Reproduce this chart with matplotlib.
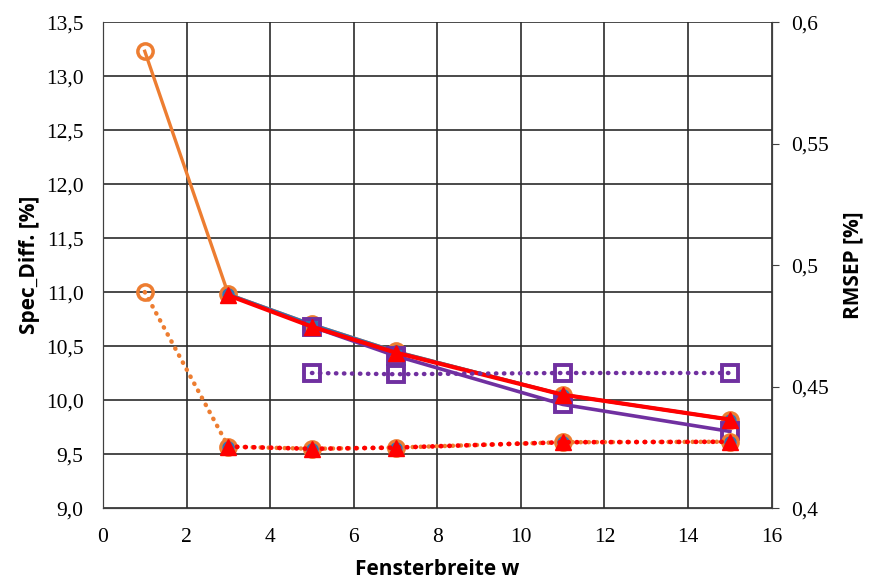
import matplotlib

matplotlib.use("Agg")

import matplotlib.pyplot as plt  # noqa: E402
from matplotlib.ticker import FuncFormatter, MultipleLocator  # noqa: E402

# Spec_Diff [%] (left axis)
x_all = [1, 3, 5, 7, 11, 15]
spec_orange = [13.23, 10.98, 10.70, 10.45, 10.05, 9.82]
x_sub = [3, 5, 7, 11, 15]
spec_blue = [10.98, 10.70, 10.45, 10.05, 9.82]
spec_red = [10.97, 10.68, 10.44, 10.05, 9.82]
x_sq = [5, 7, 11, 15]
spec_purple = [10.68, 10.41, 9.96, 9.71]

# RMSEP [%] (right axis)
rmsep_orange = [0.4889, 0.4253, 0.4244, 0.4249, 0.4271, 0.4273]
rmsep_blue = [0.4253, 0.4244, 0.4249, 0.4271, 0.4273]
rmsep_red = [0.4253, 0.4244, 0.4249, 0.4271, 0.4273]
rmsep_purple = [0.4556, 0.4551, 0.4556, 0.4556]

ORANGE = "#ED7D31"
BLUE = "#2E75B6"
PURPLE = "#7030A0"
RED = "#FF0000"


def comma(fmt):
    return FuncFormatter(lambda v, _: (fmt % v).replace(".", ","))


fig = plt.figure(figsize=(8.69, 5.82), dpi=100)
ax = fig.add_axes([0.1185, 0.127, 0.7695, 0.835])
ax2 = ax.twinx()

serif = "Liberation Serif"
label_font = dict(family="Open Sans", weight="bold", size=15)

ax.set_xlim(0, 16)
ax.set_ylim(9.0, 13.5)
ax2.set_ylim(0.4, 0.6)
ax.xaxis.set_major_locator(MultipleLocator(2))
ax.yaxis.set_major_locator(MultipleLocator(0.5))
ax2.yaxis.set_major_locator(MultipleLocator(0.05))
ax.yaxis.set_major_formatter(comma("%.1f"))
ax2.yaxis.set_major_formatter(FuncFormatter(lambda v, _: ("%g" % round(v, 2)).replace(".", ",")))

ax.grid(True, color="#2b2b2b", linewidth=1.2)
ax.set_axisbelow(True)
for a in (ax, ax2):
    for s in a.spines.values():
        s.set_color("#404040")
    a.spines["top"].set_visible(False)
ax.tick_params(axis="both", length=0, labelsize=15.5, labelfontfamily=serif, pad=14)
ax2.tick_params(axis="y", length=5, color="#404040", labelsize=15.5, labelfontfamily=serif, pad=9)

dotted = (0, (0.1, 1.7))
dot = dict(dash_capstyle="round")

# solid lines: Spec_Diff
ax.plot(x_all, spec_orange, "-o", color=ORANGE, lw=2.4, ms=11, mfc="none", mew=2.5, zorder=3)
ax.plot(x_sub, spec_blue, "-o", color=BLUE, lw=2.3, ms=8, zorder=4)
ax.plot(x_sq, spec_purple, "-s", color=PURPLE, lw=2.6, ms=12, mfc="none", mew=2.8, zorder=5)
ax.plot(x_sub, spec_red, "-^", color=RED, lw=3, ms=11, zorder=6)

# dotted lines: RMSEP
ax2.plot(x_all, rmsep_orange, "o", ls=dotted, color=ORANGE, lw=3.2, ms=11, mfc="none", mew=2.5, zorder=3, **dot)
ax2.plot(x_sub, rmsep_blue, "o", ls="none", color=BLUE, ms=8, zorder=4)
ax2.plot(x_sq, rmsep_purple, "s", ls=dotted, color=PURPLE, lw=3.2, ms=12, mfc="none", mew=2.8, zorder=5, **dot)
ax2.plot(x_sub, rmsep_red, "^", ls=dotted, color=RED, lw=3.4, ms=11, zorder=6, **dot)

ax.set_xlabel("Fensterbreite w", labelpad=9, **label_font)
ax.set_ylabel("Spec_Diff. [%]", labelpad=4, **label_font)
ax2.set_ylabel("RMSEP [%]", labelpad=10, **label_font)

fig.savefig("out.png", dpi=100)
plt.close(fig)
